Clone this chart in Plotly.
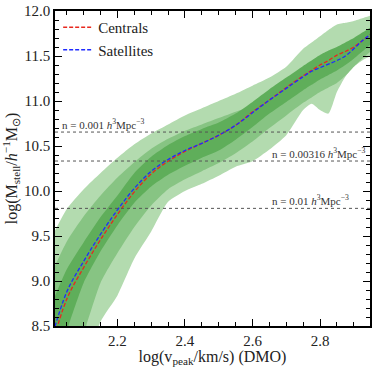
import plotly.graph_objects as go

# log(v_peak) grid
vpeak = [2.00, 2.05, 2.10, 2.15, 2.20, 2.25, 2.30, 2.35, 2.40, 2.45, 2.50, 2.55,
         2.60, 2.65, 2.70, 2.75, 2.775, 2.80, 2.825, 2.85, 2.875, 2.90, 2.925, 2.95]

# median relations
centrals = [8.20, 8.80, 9.15, 9.46, 9.74, 9.99, 10.19, 10.33, 10.44, 10.53, 10.62, 10.73,
            10.88, 11.01, 11.15, 11.28, 11.34, 11.40, 11.45, 11.51, 11.55, 11.60, 11.67, 11.74]
satellites = [8.30, 8.88, 9.22, 9.52, 9.79, 10.03, 10.22, 10.35, 10.45, 10.53, 10.62, 10.73,
              10.87, 11.01, 11.14, 11.27, 11.33, 11.37, 11.41, 11.45, 11.50, 11.58, 11.67, 11.74]

# scatter envelopes (1, 2, 3 sigma)
up1 = [8.70, 9.13, 9.43, 9.71, 9.95, 10.20, 10.38, 10.51, 10.61, 10.69, 10.76, 10.86,
       10.99, 11.13, 11.26, 11.39, 11.45, 11.51, 11.56, 11.60, 11.65, 11.70, 11.76, 11.82]
lo1 = [7.90, 8.45, 8.98, 9.33, 9.62, 9.87, 10.05, 10.18, 10.28, 10.37, 10.45, 10.57,
       10.71, 10.86, 10.99, 11.12, 11.18, 11.24, 11.29, 11.34, 11.40, 11.47, 11.55, 11.63]
up2 = [9.05, 9.44, 9.72, 9.95, 10.15, 10.32, 10.47, 10.58, 10.67, 10.74, 10.81, 10.88,
       10.95, 11.06, 11.19, 11.32, 11.38, 11.44, 11.51, 11.57, 11.61, 11.66, 11.71, 11.76]
lo2 = [7.50, 7.95, 8.42, 8.98, 9.31, 9.60, 9.84, 10.02, 10.13, 10.22, 10.31, 10.42,
       10.55, 10.70, 10.84, 10.98, 11.04, 11.10, 11.15, 11.20, 11.28, 11.38, 11.47, 11.55]
up3 = [9.45, 9.80, 10.02, 10.20, 10.37, 10.52, 10.64, 10.74, 10.84, 10.92, 11.00, 11.08,
       11.17, 11.26, 11.38, 11.58, 11.65, 11.72, 11.79, 11.85, 11.87, 11.89, 11.92, 11.95]
lo3 = [7.00, 7.50, 8.00, 8.55, 8.84, 9.25, 9.55, 9.88, 10.00, 10.08, 10.17, 10.27,
       10.33, 10.46, 10.62, 10.90, 10.97, 10.90, 10.86, 11.10, 11.27, 11.38, 11.45, 11.50]

# number density thresholds
n_levels = [10.655, 10.333, 9.807]
n_labels = ["n = 0.001 <i>h</i><sup>3</sup>Mpc<sup>−3</sup>",
            "n = 0.00316 <i>h</i><sup>3</sup>Mpc<sup>−3</sup>",
            "n = 0.01 <i>h</i><sup>3</sup>Mpc<sup>−3</sup>"]

FONT = "Liberation Serif"

fig = go.Figure()

bands = [(up3, lo3, "#b3dbaf"), (up2, lo2, "#87c483"), (up1, lo1, "#5fae5a")]
for up, lo, col in bands:
    fig.add_trace(go.Scatter(x=vpeak, y=up, mode="lines", line=dict(width=0, color=col, shape="spline", smoothing=0.6),
                             showlegend=False, hoverinfo="skip"))
    fig.add_trace(go.Scatter(x=vpeak, y=lo, mode="lines", line=dict(width=0, color=col, shape="spline", smoothing=0.6),
                             fill="tonexty", fillcolor=col, showlegend=False, hoverinfo="skip"))

fig.add_trace(go.Scatter(x=vpeak, y=centrals, mode="lines", name="Centrals",
                         line=dict(color="#e8281e", width=1.3, dash="4px,2px", shape="spline")))
fig.add_trace(go.Scatter(x=vpeak, y=satellites, mode="lines", name="Satellites",
                         line=dict(color="#1f2bff", width=1.3, dash="4px,2px", shape="spline")))

for lev in n_levels:
    fig.add_hline(y=lev, line=dict(color="#555555", width=1, dash="dot"))

label_x = [2.03, 2.653, 2.653]
for lev, txt, lx in zip(n_levels, n_labels, label_x):
    fig.add_annotation(x=lx, y=lev, text=txt, showarrow=False, xanchor="left", yanchor="bottom",
                       yshift=-1, font=dict(family=FONT, size=11, color="#333333"))

axis_common = dict(showline=True, linecolor="black", linewidth=1.5, mirror="allticks",
                   ticks="inside", ticklen=7, tickwidth=1.3, tickcolor="black",
                   showgrid=False, zeroline=False, tickformat=".1f", automargin=False,
                   tickfont=dict(family=FONT, size=15, color="#222222"))

fig.update_xaxes(range=[2.015, 2.948], dtick=0.2, tick0=2.0,
                 minor=dict(dtick=0.05, ticklen=4, ticks="inside", tickcolor="black"),
                 title=dict(text="log(v<sub>peak</sub>/km/s) (DMO)", standoff=4,
                            font=dict(family=FONT, size=16, color="#222222")),
                 **axis_common)
fig.update_yaxes(range=[8.5, 12.0], dtick=0.5, tick0=8.5,
                 minor=dict(dtick=0.1, ticklen=4, ticks="inside", tickcolor="black"),
                 title=dict(text="log(M<sub>stell</sub>/<i>h</i><sup>−1</sup>M<sub>⊙</sub>)", standoff=3,
                            font=dict(family=FONT, size=16, color="#222222")),
                 **axis_common)

fig.update_layout(width=374, height=367, margin=dict(l=55, r=4, t=11, b=41),
                  plot_bgcolor="white", paper_bgcolor="white",
                  legend=dict(x=0.01, y=1.0, xanchor="left", yanchor="top", bgcolor="rgba(0,0,0,0)",
                              traceorder="normal",
                              font=dict(family=FONT, size=15, color="#222222"), tracegroupgap=0))

fig.write_html("out.html", config={"displayModeBar": False},
               post_script="document.body.style.margin='0';")
